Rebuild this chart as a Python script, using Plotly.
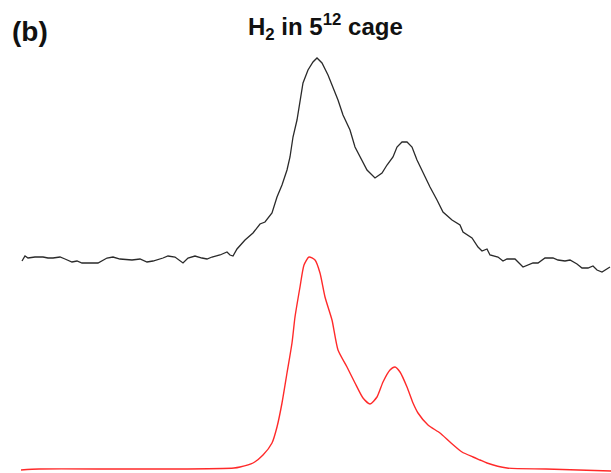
import plotly.graph_objects as go

# Measured spectrum (black, upper): energy axis (arb. units) and intensity (arb. units)
meas_x = [22, 25, 28, 35, 43, 48, 53, 60, 65, 72, 77, 82, 98, 107, 113, 120, 132, 140, 147, 153,
          163, 168, 175, 183, 188, 195, 202, 207, 212, 220, 227, 230, 233, 237, 245, 253, 260, 265,
          272, 277, 282, 287, 290, 293, 297, 300, 303, 308, 313, 317, 322, 328, 333, 338, 343, 350,
          355, 362, 367, 375, 382, 387, 393, 397, 402, 407, 412, 417, 423, 430, 437, 443, 452, 460,
          463, 472, 478, 482, 487, 490, 498, 503, 507, 515, 523, 528, 533, 538, 545, 553, 558, 565,
          570, 577, 582, 588, 593, 597, 602, 610]
meas_y = [212, 217, 215, 216, 216, 215, 215, 216, 214, 211, 212, 210, 210, 215, 216, 214, 213, 214, 211, 212,
          215, 217, 216, 210, 215, 217, 215, 214, 216, 218, 221, 218, 217, 224, 233, 240, 249, 251,
          260, 276, 288, 303, 316, 336, 353, 370, 390, 403, 411, 415, 410, 398, 386, 373, 358, 343,
          326, 313, 303, 295, 300, 308, 316, 326, 331, 331, 326, 313, 300, 286, 273, 261, 253, 248,
          241, 235, 226, 222, 224, 218, 216, 212, 214, 214, 206, 208, 210, 210, 215, 215, 213, 212,
          213, 209, 205, 205, 207, 203, 201, 206]

# Calculated spectrum (red, lower)
calc_x = [21, 39, 117, 175, 234, 240, 253, 263, 272, 277, 282, 287, 292, 295, 300, 304, 309, 315,
          320, 325, 332, 338, 347, 355, 363, 370, 377, 383, 390, 395, 400, 407, 413, 418, 428, 440,
          450, 462, 473, 480, 487, 507, 546, 611]
calc_y = [3, 4, 4, 4, 5, 6, 10, 18, 30, 46, 70, 100, 130, 156, 186, 208, 216, 213,
          200, 176, 153, 123, 106, 90, 75, 69, 76, 91, 103, 106, 101, 86, 70, 60, 48, 40,
          31, 21, 16, 13, 10, 5, 4, 2]

panel_label = "<b>(b)</b>"
title_text = "<b>H<sub>2</sub> in 5<sup>12</sup> cage</b>"

fig = go.Figure()
fig.add_trace(go.Scatter(x=meas_x, y=meas_y, mode="lines",
                         line=dict(color="#2a2a2a", width=1.3), showlegend=False))
fig.add_trace(go.Scatter(x=calc_x, y=calc_y, mode="lines",
                         line=dict(color="#ff2a2a", width=1.4, shape="spline", smoothing=0.6),
                         showlegend=False))

fig.add_annotation(text=panel_label, x=10, y=473 - 31, xref="x", yref="y",
                   showarrow=False, xanchor="left", yanchor="middle",
                   font=dict(family="Liberation Sans, Arial", size=28, color="#111"))
fig.add_annotation(text=title_text, x=325, y=473 - 27, xref="x", yref="y",
                   showarrow=False, xanchor="center", yanchor="middle",
                   font=dict(family="Liberation Sans, Arial", size=24, color="#111"))

fig.update_layout(
    width=611, height=473,
    margin=dict(l=0, r=0, t=0, b=0),
    paper_bgcolor="white", plot_bgcolor="white",
    xaxis=dict(range=[0, 611], visible=False, fixedrange=True),
    yaxis=dict(range=[0, 473], visible=False, fixedrange=True),
)
fig.write_html("out.html", config={"displayModeBar": False},
               post_script="document.body.style.margin='0px';")
